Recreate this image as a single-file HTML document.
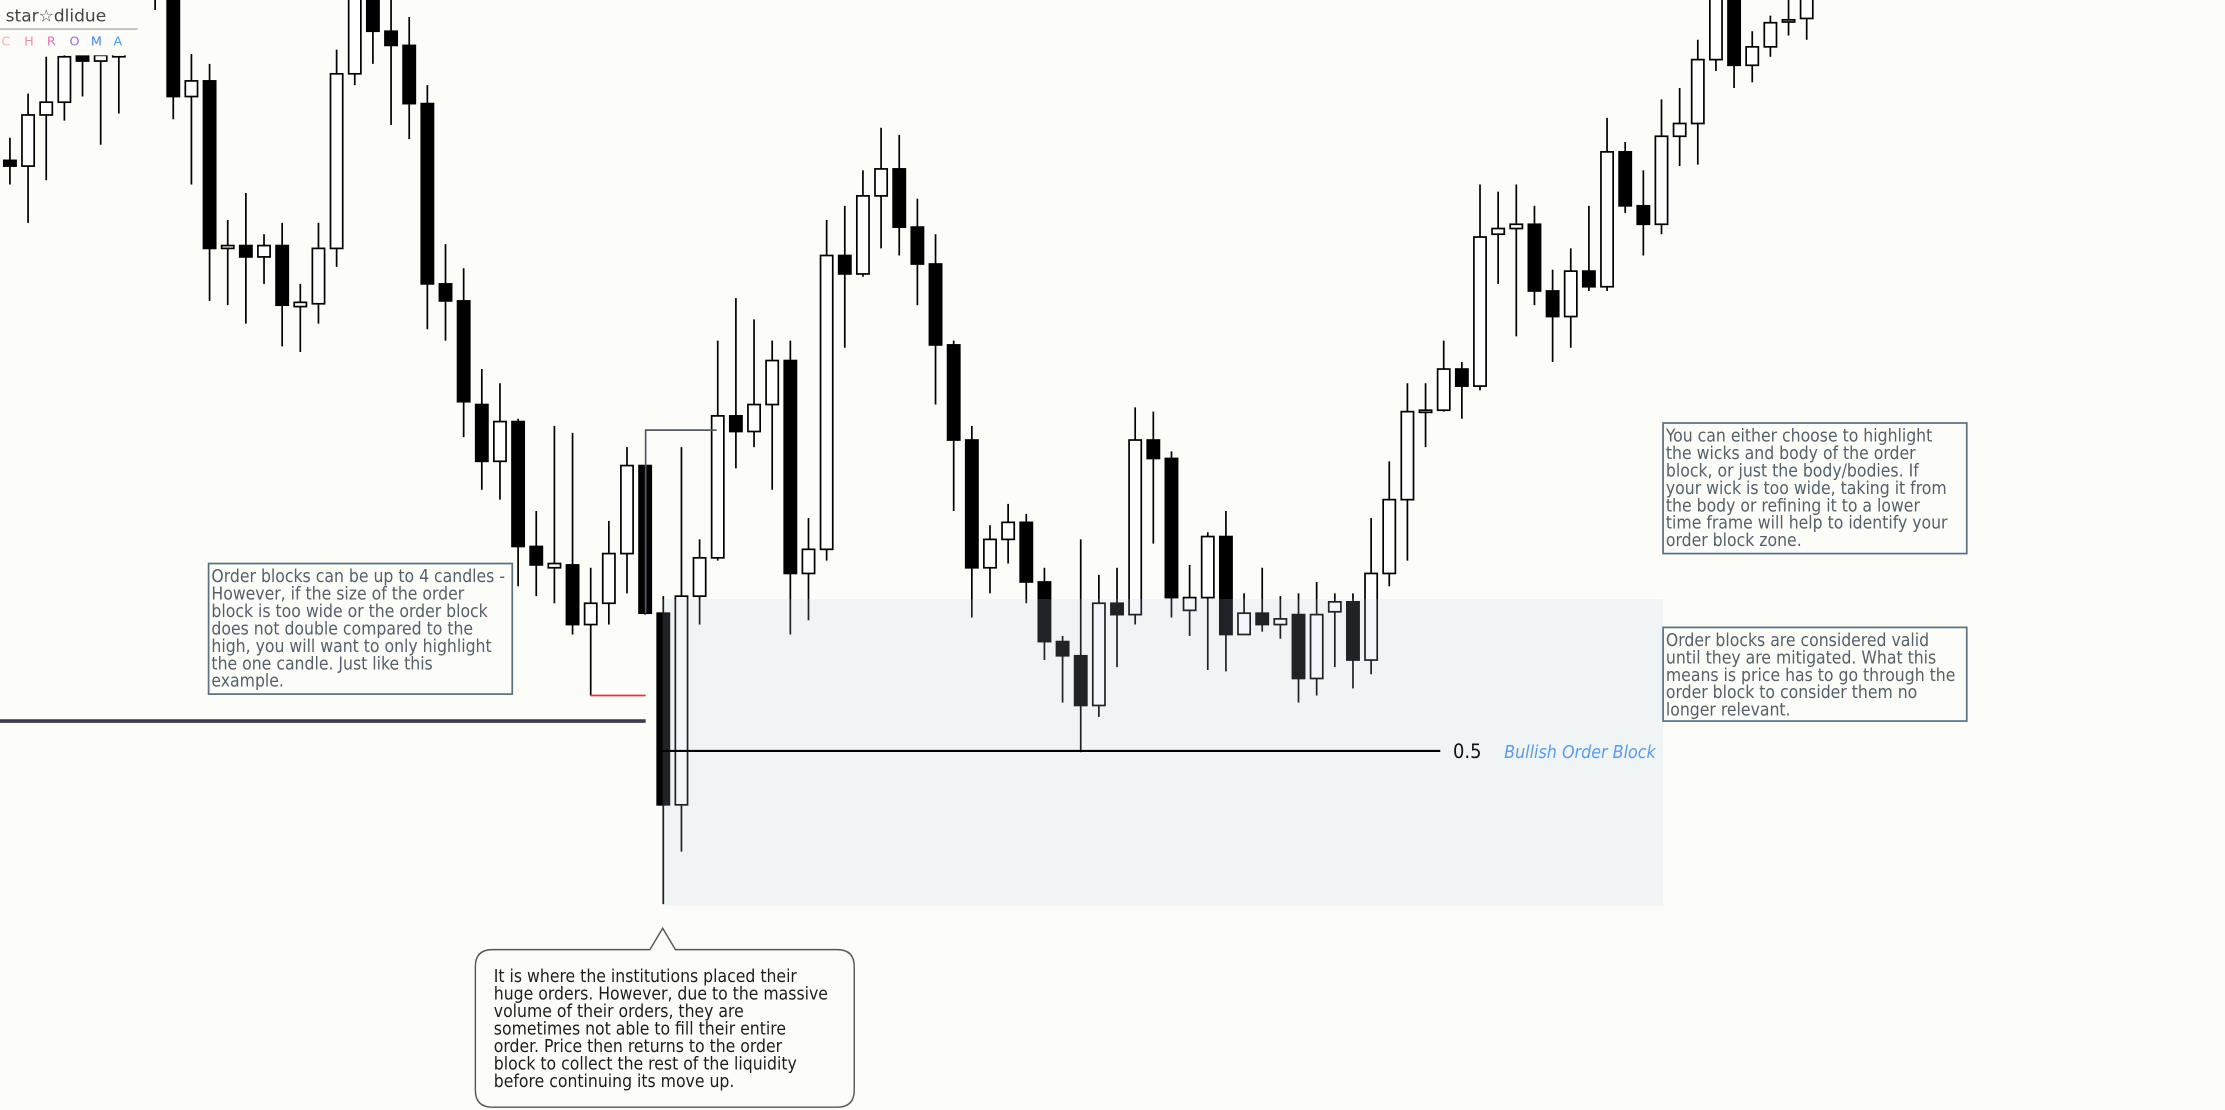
<!DOCTYPE html>
<html><head><meta charset="utf-8"><title>Bullish Order Block</title>
<style>
html,body{margin:0;padding:0;background:#fcfcf8;overflow:hidden}
svg{display:block}
.note{font-family:"DejaVu Sans Condensed","DejaVu Sans","Liberation Sans",sans-serif;font-size:12.3px;fill:#56606a}
.call{font-family:"DejaVu Sans Condensed","DejaVu Sans","Liberation Sans",sans-serif;font-size:12.3px;fill:#1e1e1e}
</style></head>
<body>
<svg id="chart" width="2225" height="1110" viewBox="0 0 1568 782" preserveAspectRatio="none" xmlns="http://www.w3.org/2000/svg">
<rect x="0" y="0" width="1568" height="782" fill="#fcfcf8"/>
<g id="candles"></g>
<rect x="467" y="422" width="705" height="216" fill="rgb(186,205,230)" fill-opacity="0.17"/>
<line x1="467" y1="529" x2="1015" y2="529" stroke="#000" stroke-width="1.5"/>
<text x="1024" y="534" font-family="DejaVu Sans Condensed, DejaVu Sans, sans-serif" font-size="14" fill="#111">0.5</text>
<text x="1060" y="534" font-family="DejaVu Sans Condensed, DejaVu Sans, sans-serif" font-size="12.5" font-style="italic" fill="#5b9be8">Bullish Order Block</text>
<line x1="0" y1="508" x2="455" y2="508" stroke="#3c3c4c" stroke-width="2.5"/>
<line x1="416" y1="490" x2="455" y2="490" stroke="#e8313a" stroke-width="1.2"/>
<polyline points="455,432 455,303 505,303" fill="none" stroke="#555a66" stroke-width="1.2"/>

<rect x="0" y="0" width="98" height="39" fill="#fcfcf8"/>
<text x="4" y="15" font-family="DejaVu Sans, sans-serif" font-size="12" fill="#444">star☆dlidue</text>
<line x1="0" y1="20.5" x2="97" y2="20.5" stroke="#999" stroke-width="0.8"/>
<g font-family="DejaVu Sans, sans-serif" font-size="9">
<text x="1" y="32" fill="#ffb0a0">C</text><text x="17" y="32" fill="#f88aa8">H</text><text x="33" y="32" fill="#e070b0">R</text><text x="49" y="32" fill="#9a6ae0">O</text><text x="64" y="32" fill="#4a82f0">M</text><text x="80" y="32" fill="#3aa0f0">A</text>
</g>

<g>
<rect x="147" y="397" width="214" height="92" fill="#fcfcf8" stroke="#5c7080" stroke-width="1.2"/>
<text class="note" x="149" y="410">Order blocks can be up to 4 candles -</text>
<text class="note" x="149" y="422.3">However, if the size of the order</text>
<text class="note" x="149" y="434.6">block is too wide or the order block</text>
<text class="note" x="149" y="446.9">does not double compared to the</text>
<text class="note" x="149" y="459.2">high, you will want to only highlight</text>
<text class="note" x="149" y="471.5">the one candle. Just like this</text>
<text class="note" x="149" y="483.8">example.</text>
</g>
<g>
<rect x="1172" y="298" width="214" height="92" fill="#fcfcf8" stroke="#5c7080" stroke-width="1.2"/>
<text class="note" x="1174" y="311">You can either choose to highlight</text>
<text class="note" x="1174" y="323.3">the wicks and body of the order</text>
<text class="note" x="1174" y="335.6">block, or just the body/bodies. If</text>
<text class="note" x="1174" y="347.9">your wick is too wide, taking it from</text>
<text class="note" x="1174" y="360.2">the body or refining it to a lower</text>
<text class="note" x="1174" y="372.5">time frame will help to identify your</text>
<text class="note" x="1174" y="384.8">order block zone.</text>
</g>
<g>
<rect x="1172" y="442" width="214" height="66" fill="#fcfcf8" stroke="#5c7080" stroke-width="1.2"/>
<text class="note" x="1174" y="455">Order blocks are considered valid</text>
<text class="note" x="1174" y="467.3">until they are mitigated. What this</text>
<text class="note" x="1174" y="479.6">means is price has to go through the</text>
<text class="note" x="1174" y="491.9">order block to consider them no</text>
<text class="note" x="1174" y="504.2">longer relevant.</text>
</g>
<g>
<path d="M347,669 L458,669 L467,654 L476,669 L590,669 Q602,669 602,681 L602,768 Q602,780 590,780 L347,780 Q335,780 335,768 L335,681 Q335,669 347,669 Z" fill="#fcfcf8" stroke="#555" stroke-width="1"/>
<text class="call" x="348" y="692">It is where the institutions placed their</text>
<text class="call" x="348" y="704.3">huge orders. However, due to the massive</text>
<text class="call" x="348" y="716.6">volume of their orders, they are</text>
<text class="call" x="348" y="728.9">sometimes not able to fill their entire</text>
<text class="call" x="348" y="741.2">order. Price then returns to the order</text>
<text class="call" x="348" y="753.5">block to collect the rest of the liquidity</text>
<text class="call" x="348" y="765.8">before continuing its move up.</text>
</g>
</svg>
<script>
const opens=[687,683,719,728,761,757,760,810,805,810,732,743,625,627,619,627,584,586,625,748,810,778,768,727,600,588,515,475,503,415,400,402,360,375,410,472,368,233,380,407,507,496,515,546,396,413,620,607,662,681,640,614,557,490,400,420,432,390,348,338,303,375,367,490,477,370,379,422,353,368,360,367,322,369,376,335,396,448,511,511,540,528,635,639,642,595,577,609,598,693,655,642,704,713,758,810,754,767,786,787];
const highs=[703,734,760,770,770,770,780,830,830,820,762,755,645,664,635,643,600,643,765,820,820,800,788,740,628,611,540,530,505,440,500,495,400,433,485,472,380,485,420,560,590,575,560,560,435,645,655,680,710,705,660,635,560,500,430,445,438,400,352,420,395,400,513,510,482,402,425,440,382,400,380,382,390,382,382,435,475,530,530,560,545,670,665,670,655,610,625,655,717,700,680,730,738,772,820,820,778,789,800,810];
const lows=[670,643,673,715,732,698,720,795,793,716,670,588,585,572,600,556,552,572,612,740,755,712,702,568,560,492,455,448,387,380,375,353,310,360,382,367,163,200,360,405,470,485,455,353,363,405,555,605,625,620,585,515,440,365,382,403,375,335,305,270,295,330,360,417,365,352,328,327,353,355,350,305,310,330,315,325,387,405,485,510,505,525,600,563,585,545,555,595,595,650,620,635,683,684,750,738,742,760,775,772];
const closes=[683,719,728,760,757,761,762,820,815,732,743,625,627,619,627,585,587,625,748,810,778,768,727,600,588,517,475,503,415,402,403,360,375,410,472,368,233,380,407,507,496,515,546,396,413,620,607,662,681,640,614,557,490,400,420,432,390,348,338,303,375,367,490,477,379,379,422,353,368,360,364,322,367,376,335,396,448,510,511,540,528,633,639,642,595,577,609,598,693,655,642,704,713,758,810,754,767,784,786,805];

const NS='http://www.w3.org/2000/svg';
function xScale(i){return 7+i*12.79;}
function yScale(p){return 800-p;}
const g=document.getElementById('candles');
for(let i=0;i<opens.length;i++){
  const x=xScale(i),o=opens[i],c=closes[i];
  const up=c>=o;
  const w=document.createElementNS(NS,'line');
  
  
  w.setAttribute('x1',x);w.setAttribute('x2',x);
  w.setAttribute('y1',yScale(highs[i]));w.setAttribute('y2',yScale(lows[i]));
  w.setAttribute('stroke','#000');w.setAttribute('stroke-width','1.2');
  g.appendChild(w);
  const top=yScale(Math.max(o,c)),bot=yScale(Math.min(o,c));
  const b=document.createElementNS(NS,'rect');
  
  
  b.setAttribute('x',x-4.3);b.setAttribute('width',8.6);
  b.setAttribute('y',top);b.setAttribute('height',Math.max(bot-top,1.5));
  b.setAttribute('fill',up?'#ffffff':'#000000');
  b.setAttribute('stroke','#000');b.setAttribute('stroke-width','1.2');
  g.appendChild(b);
}
</script>
</body></html>
